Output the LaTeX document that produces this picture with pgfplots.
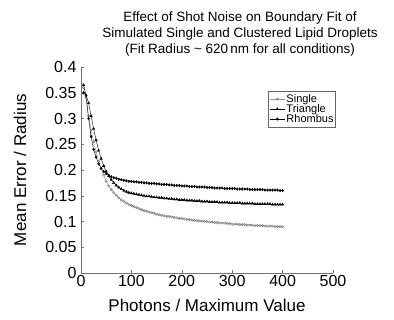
\documentclass[border=0pt]{standalone}
\usepackage{pgfplots}
\pgfplotsset{compat=1.18}
\usepackage{pgfplotstable}
\usepackage{fontspec}
\setmainfont{Liberation Sans}
\pgfplotstableread{
x single triangle rhombus
5 .360 .365 .350
10 .340 .345 .345
15 .305 .330 .300
20 .278 .305 .265
25 .255 .280 .240
30 .235 .258 .225
35 .217 .238 .212
40 .203 .222 .203
45 .190 .208 .197
50 .178 .197 .193
55 .169 .188 .190
60 .162 .181 .187
65 .156 .175 .185
70 .151 .170 .184
75 .146 .166 .182
80 .142 .163 .181
85 .139 .160 .180
90 .136 .158 .179
95 .133 .156 .178
100 .131 .155 .178
105 .129 .154 .177
110 .127 .153 .177
115 .125 .152 .176
120 .123 .151 .176
125 .121 .150 .175
130 .120 .149 .175
135 .118 .149 .174
140 .117 .148 .174
145 .116 .147 .174
150 .114 .147 .173
155 .113 .146 .173
160 .112 .146 .172
165 .111 .145 .172
170 .110 .145 .172
175 .110 .144 .171
180 .109 .144 .171
185 .108 .143 .170
190 .107 .143 .170
195 .106 .142 .170
200 .106 .142 .169
205 .105 .142 .169
210 .104 .141 .169
215 .104 .141 .168
220 .103 .141 .168
225 .102 .140 .168
230 .102 .140 .167
235 .101 .140 .167
240 .101 .139 .167
245 .100 .139 .167
250 .100 .139 .166
255 .099 .138 .166
260 .099 .138 .166
265 .098 .138 .165
270 .098 .138 .165
275 .097 .137 .165
280 .097 .137 .165
285 .097 .137 .164
290 .096 .137 .164
295 .096 .136 .164
300 .095 .136 .164
305 .095 .136 .164
310 .095 .136 .163
315 .094 .136 .163
320 .094 .135 .163
325 .094 .135 .163
330 .093 .135 .163
335 .093 .135 .162
340 .093 .135 .162
345 .092 .134 .162
350 .092 .134 .162
355 .092 .134 .162
360 .092 .134 .162
365 .091 .134 .161
370 .091 .134 .161
375 .091 .134 .161
380 .091 .133 .161
385 .090 .133 .161
390 .090 .133 .161
395 .090 .133 .160
400 .090 .133 .160
}\datatable
\begin{document}
\begin{tikzpicture}
\useasboundingbox (-81pt,-47pt) rectangle (313pt,273pt);
\begin{axis}[
  at={(0pt,0pt)}, anchor=south west,
  scale only axis, width=252pt, height=206pt,
  xmin=0, xmax=500, ymin=0, ymax=0.4,
  xtick={0,100,...,500},
  ytick={0,0.05,...,0.41},
  yticklabels={0,0.05,0.1,0.15,0.2,0.25,0.3,0.35,0.4},
  axis lines=left,
  axis line style={-, black!55},
  tick style={black!55},
  tick align=inside,
  major tick length=3pt,
  /pgf/number format/assume math mode=true,
  ticklabel style={font=\fontsize{16}{18}\selectfont},
  xticklabel style={yshift=1pt},
  yticklabel style={xshift=-1pt},
  label style={font=\fontsize{17}{19}\selectfont},
  xlabel={Photons / Maximum Value},
  ylabel={Mean Error / Radius},
  xlabel style={at={(axis description cs:0.5,-0.155)}, anchor=center},
  ylabel style={at={(axis description cs:-0.242,0.5)}, anchor=center},
  legend style={at={(0.743,0.883)}, anchor=north west, font=\fontsize{11}{11}\selectfont,
    draw=black!60, inner sep=1pt, row sep=-3.5pt, legend cell align=left,
    nodes={inner ysep=2pt, inner xsep=1pt}},
  legend image code/.code={\draw[#1] (0pt,0pt) -- (0.55cm,0pt); \draw[#1, only marks] plot coordinates {(0.27cm,0pt)};},
]
\addplot[black!45, thin, mark=o, mark size=1.2pt, mark options={black!55}] table[x=x,y=single]{\datatable};
\addlegendentry{Single}
\addplot[black, thin, mark=triangle*, mark size=1.4pt] table[x=x,y=triangle]{\datatable};
\addlegendentry{Triangle}
\addplot[black, thin, mark=diamond*, mark size=1.3pt] table[x=x,y=rhombus]{\datatable};
\addlegendentry{Rhombus}
\end{axis}
\node[align=center, font=\fontsize{13.5}{16}\selectfont, anchor=north, inner sep=0pt] at (159pt,261pt)
 {Effect of Shot Noise on Boundary Fit of\\Simulated Single and Clustered Lipid Droplets\\(Fit Radius \textasciitilde\ 620\,nm for all conditions)};
\end{tikzpicture}
\end{document}
